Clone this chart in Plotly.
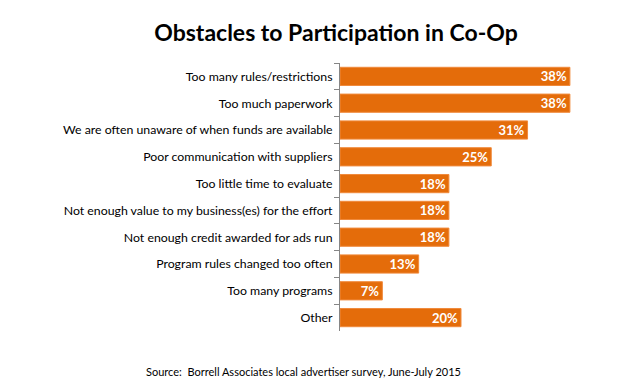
import plotly.graph_objects as go

categories = [
    "Too many rules/restrictions",
    "Too much paperwork",
    "We are often unaware of when funds are available",
    "Poor communication with suppliers",
    "Too little time to evaluate",
    "Not enough value to my business(es) for the effort",
    "Not enough credit awarded for ads run",
    "Program rules changed too often",
    "Too many programs",
    "Other",
]
values = [38, 38, 31, 25, 18, 18, 18, 13, 7, 20]
value_labels = [f"{v}%" for v in values]

FONT = "Lato"

fig = go.Figure(
    go.Bar(
        x=values,
        y=categories,
        orientation="h",
        marker=dict(color="#E46C0A", line=dict(color="#F08A3C", width=1)),
        text=value_labels,
        textposition="inside",
        insidetextanchor="end",
        constraintext="none",
        textfont=dict(family=FONT, size=13, color="white", weight="bold"),
        width=0.68,
        hoverinfo="skip",
    )
)

fig.update_layout(
    width=622,
    height=384,
    margin=dict(l=340, r=40, t=63, b=53),
    paper_bgcolor="white",
    plot_bgcolor="white",
    showlegend=False,
    font=dict(family=FONT, size=12, color="#000000"),
    title=dict(
        text="<b>Obstacles to Participation in Co-Op</b>",
        x=336 / 622,
        xanchor="center",
        y=1 - 33 / 384,
        yanchor="middle",
        font=dict(family=FONT, size=23, color="#000000"),
    ),
    xaxis=dict(
        range=[0, 40],
        visible=False,
        showgrid=False,
        zeroline=False,
    ),
    yaxis=dict(
        autorange="reversed",
        showline=True,
        linecolor="#868686",
        linewidth=1,
        ticks="outside",
        tickson="boundaries",
        ticklen=5,
        tickcolor="#868686",
        tickfont=dict(family=FONT, size=12.3, color="#000000"),
        ticklabelstandoff=4,
        showgrid=False,
    ),
    annotations=[
        dict(
            text="Source:  Borrell Associates local advertiser survey, June-July 2015",
            x=(303 - 340) / 242,
            y=(331 - 371) / 268,
            xref="paper",
            yref="paper",
            xanchor="center",
            yanchor="middle",
            showarrow=False,
            font=dict(family=FONT, size=11, color="#000000"),
        )
    ],
)

fig.write_html(
    "out.html",
    config={"displayModeBar": False},
    post_script="document.body.style.margin='0';document.body.style.padding='0';",
)
